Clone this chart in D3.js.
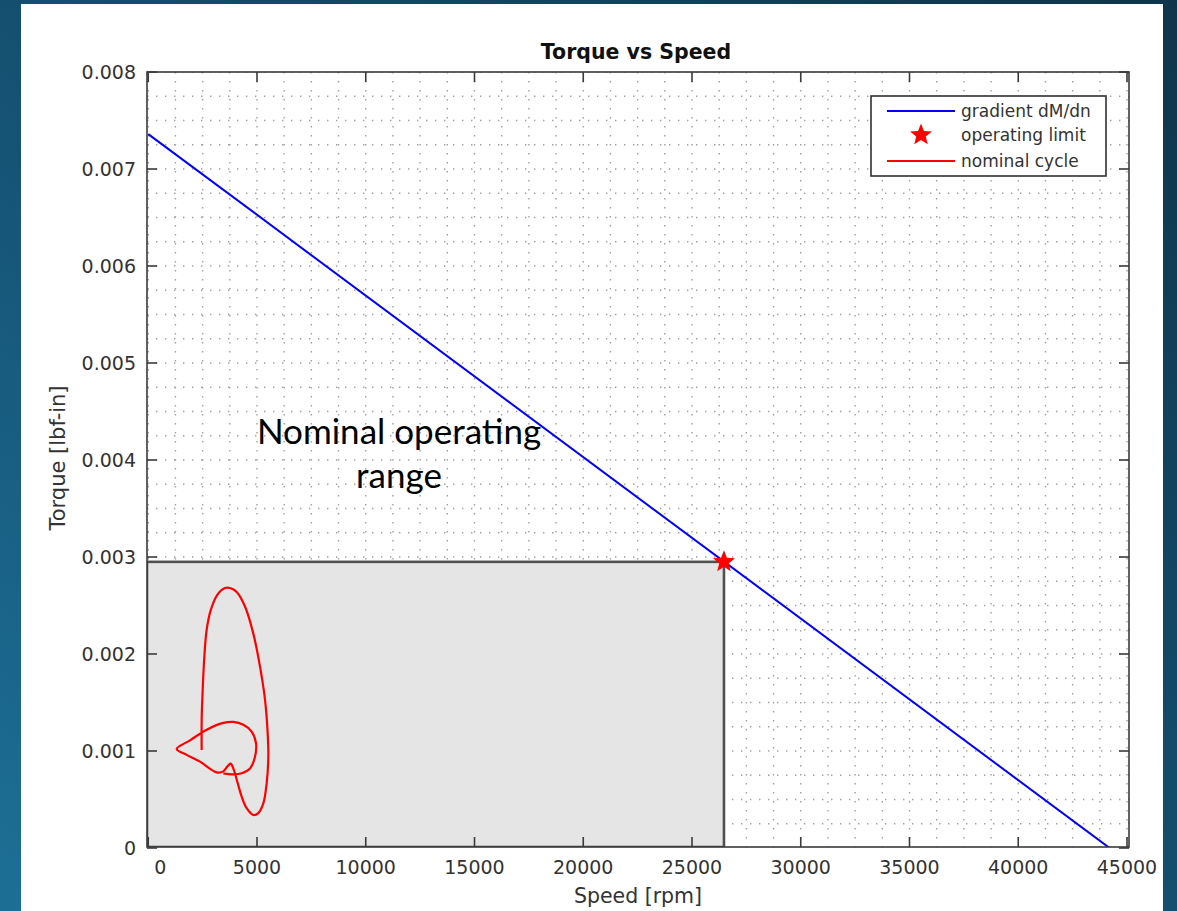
<!DOCTYPE html>
<html>
<head>
<meta charset="utf-8">
<script src="https://cdn.jsdelivr.net/npm/d3@7"></script>
<style>
  html, body { margin: 0; padding: 0; background: #14506e; }
  svg { display: block; }
</style>
</head>
<body>
<svg id="chart" width="1177" height="911"></svg>
<script>
// ---------------- DATA ----------------
const speedTicks = [0, 5000, 10000, 15000, 20000, 25000, 30000, 35000, 40000, 45000];
const torqueTicks = [0, 0.001, 0.002, 0.003, 0.004, 0.005, 0.006, 0.007, 0.008];

// gradient dM/dn line
const gradientSpeed = [0, 44200];
const gradientTorque = [0.00736, 0];

// operating limit
const limitSpeed = [26470];
const limitTorque = [0.00295];

// nominal cycle
const cycleSpeed = [2456, 2456, 2502, 2578, 2686, 2870, 3176, 3529, 3759, 4065, 4448, 4831, 5138, 5368, 5491, 5521, 5445, 5291, 5061, 4831, 4525, 4295, 4111, 3943, 3789, 3636, 3452, 3146, 2379, 1766, 1307, 1920, 2686, 3452, 3912, 4372, 4755, 4954, 4908, 4678, 4295, 3912, 3452];
const cycleTorque = [0.00101, 0.00132, 0.00163, 0.00197, 0.00225, 0.00245, 0.00261, 0.00268, 0.00268, 0.00264, 0.00249, 0.00221, 0.00187, 0.00153, 0.00118, 0.00094, 0.00067, 0.00046, 0.00036, 0.00034, 0.00041, 0.00053, 0.00067, 0.00080, 0.00087, 0.00084, 0.00079, 0.00078, 0.00089, 0.00096, 0.00102, 0.00111, 0.00122, 0.00129, 0.00130, 0.00127, 0.00120, 0.00108, 0.00094, 0.00082, 0.00077, 0.00076, 0.00077];

const titleText = "Torque vs Speed";
const xLabel = "Speed [rpm]";
const yLabel = "Torque [lbf-in]";
const legendLabels = ["gradient dM/dn", "operating limit", "nominal cycle"];
const annotationLines = ["Nominal operating", "range"];

// ---------------- LAYOUT ----------------
const svg = d3.select("#chart");
const W = 1177, H = 911;
const frame = { left: 147, right: 1129, top: 72, bottom: 847 };

const x = d3.scaleLinear().domain([0, 45000]).range([148.25, 1127]);
const y = d3.scaleLinear().domain([0, 0.008]).range([848, 72]);

// background gradient
const defs = svg.append("defs");
const grad = defs.append("linearGradient").attr("id", "bg")
  .attr("x1", "0%").attr("y1", "100%").attr("x2", "100%").attr("y2", "0%");
grad.append("stop").attr("offset", "0%").attr("stop-color", "#1d6f96");
grad.append("stop").attr("offset", "45%").attr("stop-color", "#155273");
grad.append("stop").attr("offset", "100%").attr("stop-color", "#0f354b");
svg.append("rect").attr("width", W).attr("height", H).attr("fill", "url(#bg)");

// white card
svg.append("rect").attr("x", 21).attr("y", 4).attr("width", 1142).attr("height", 907).attr("fill", "#ffffff");

defs.append("clipPath").attr("id", "plotclip").append("rect")
  .attr("x", frame.left).attr("y", frame.top)
  .attr("width", frame.right - frame.left).attr("height", frame.bottom - frame.top);

const plot = svg.append("g").attr("clip-path", "url(#plotclip)");

// grid (major + minor, dotted)
const xGrid = d3.range(0, 45001, 1250);
const yGrid = d3.range(0, 0.0080001, 0.00025);
const gridG = plot.append("g").attr("stroke", "#a0a0a0").attr("stroke-width", 1.4)
  .attr("stroke-dasharray", "1.4,7.6").attr("fill", "none");
gridG.selectAll("line.vx").data(xGrid).join("line")
  .attr("x1", d => x(d)).attr("x2", d => x(d))
  .attr("y1", frame.top).attr("y2", frame.bottom);
gridG.selectAll("line.hy").data(yGrid).join("line")
  .attr("x1", frame.left).attr("x2", frame.right)
  .attr("y1", d => y(d)).attr("y2", d => y(d));

// nominal operating range rectangle
plot.append("rect")
  .attr("x", frame.left)
  .attr("y", y(limitTorque[0]))
  .attr("width", x(limitSpeed[0]) - frame.left)
  .attr("height", frame.bottom - y(limitTorque[0]))
  .attr("fill", "#e5e5e5")
  .attr("stroke", "#505050")
  .attr("stroke-width", 2.6);

// gradient line
const gradData = gradientSpeed.map((s, i) => [s, gradientTorque[i]]);
plot.append("path").datum(gradData)
  .attr("d", d3.line().x(d => x(d[0])).y(d => y(d[1])))
  .attr("fill", "none").attr("stroke", "#0000ff").attr("stroke-width", 2);

// nominal cycle
const cycData = cycleSpeed.map((s, i) => [s, cycleTorque[i]]);
plot.append("path").datum(cycData)
  .attr("d", d3.line().x(d => x(d[0])).y(d => y(d[1])).curve(d3.curveCatmullRom.alpha(0.5)))
  .attr("fill", "none").attr("stroke", "#ff0000").attr("stroke-width", 2.2);

// axes frame
const axG = svg.append("g");
axG.append("rect")
  .attr("x", frame.left).attr("y", frame.top)
  .attr("width", frame.right - frame.left).attr("height", frame.bottom - frame.top)
  .attr("fill", "none").attr("stroke", "#3a3a3a").attr("stroke-width", 1.6);

// ticks (inward, all four sides)
const tickLen = 10;
const tickG = axG.append("g").attr("stroke", "#3a3a3a").attr("stroke-width", 1.6);
tickG.selectAll("line.bt").data(speedTicks).join("line")
  .attr("x1", d => x(d)).attr("x2", d => x(d))
  .attr("y1", frame.bottom).attr("y2", frame.bottom - tickLen);
tickG.selectAll("line.tt").data(speedTicks).join("line")
  .attr("x1", d => x(d)).attr("x2", d => x(d))
  .attr("y1", frame.top).attr("y2", frame.top + tickLen);
tickG.selectAll("line.lt").data(torqueTicks).join("line")
  .attr("x1", frame.left).attr("x2", frame.left + tickLen)
  .attr("y1", d => y(d)).attr("y2", d => y(d));
tickG.selectAll("line.rt").data(torqueTicks).join("line")
  .attr("x1", frame.right).attr("x2", frame.right - tickLen)
  .attr("y1", d => y(d)).attr("y2", d => y(d));

// star marker path generator
function starPath(cx, cy, R, r) {
  const pts = [];
  for (let i = 0; i < 10; i++) {
    const a = -Math.PI / 2 + i * Math.PI / 5;
    const rad = i % 2 === 0 ? R : r;
    pts.push([cx + rad * Math.cos(a), cy + rad * Math.sin(a)]);
  }
  return "M" + pts.map(p => p.join(",")).join("L") + "Z";
}

// operating limit star
svg.selectAll("path.star").data(limitSpeed.map((s, i) => [s, limitTorque[i]])).join("path")
  .attr("class", "star")
  .attr("d", d => starPath(x(d[0]), y(d[1]), 11.5, 5))
  .attr("fill", "#ff0000");

// tick labels
const fontAxis = "DejaVu Sans, Liberation Sans, Arial, sans-serif";
const labG = svg.append("g").attr("font-family", fontAxis).attr("font-size", 19).attr("fill", "#333333");
labG.selectAll("text.xl").data(speedTicks).join("text")
  .attr("x", d => x(d) + (d === 0 ? 12 : 0))
  .attr("y", 874)
  .attr("text-anchor", "middle")
  .text(d => String(d));
labG.selectAll("text.yl").data(torqueTicks).join("text")
  .attr("x", 136)
  .attr("y", d => y(d) + 7)
  .attr("text-anchor", "end")
  .text(d => d === 0 ? "0" : d.toFixed(3));

// axis labels
svg.append("text").attr("x", 638).attr("y", 903)
  .attr("text-anchor", "middle").attr("font-family", fontAxis).attr("font-size", 20.5).attr("fill", "#333333")
  .text(xLabel);
svg.append("text").attr("transform", "translate(65,458) rotate(-90)")
  .attr("text-anchor", "middle").attr("font-family", fontAxis).attr("font-size", 21).attr("fill", "#333333")
  .text(yLabel);

// title
svg.append("text").attr("x", 636).attr("y", 59)
  .attr("text-anchor", "middle").attr("font-family", fontAxis).attr("font-size", 20.5)
  .attr("font-weight", "bold").attr("fill", "#111")
  .text(titleText);

// legend
const lg = svg.append("g");
lg.append("rect").attr("x", 871).attr("y", 96).attr("width", 235).attr("height", 80)
  .attr("fill", "#ffffff").attr("stroke", "#303030").attr("stroke-width", 1.6);
const legY = [111, 135, 161];
lg.append("line").attr("x1", 887).attr("x2", 955).attr("y1", legY[0]).attr("y2", legY[0])
  .attr("stroke", "#0000ff").attr("stroke-width", 2);
lg.append("path").attr("d", starPath(921, legY[1], 11.5, 5)).attr("fill", "#ff0000");
lg.append("line").attr("x1", 887).attr("x2", 955).attr("y1", legY[2]).attr("y2", legY[2])
  .attr("stroke", "#ff0000").attr("stroke-width", 2);
lg.selectAll("text").data(legendLabels).join("text")
  .attr("x", 961).attr("y", (d, i) => legY[i] + 6)
  .attr("font-family", fontAxis).attr("font-size", 17).attr("fill", "#333333")
  .text(d => d);

// annotation
const ann = svg.append("text").attr("font-family", "Lato, 'Open Sans', sans-serif")
  .attr("font-size", 35).attr("fill", "#000").attr("text-anchor", "middle");
ann.selectAll("tspan").data(annotationLines).join("tspan")
  .attr("x", 399).attr("y", (d, i) => 444 + i * 44)
  .text(d => d);
</script>
</body>
</html>
